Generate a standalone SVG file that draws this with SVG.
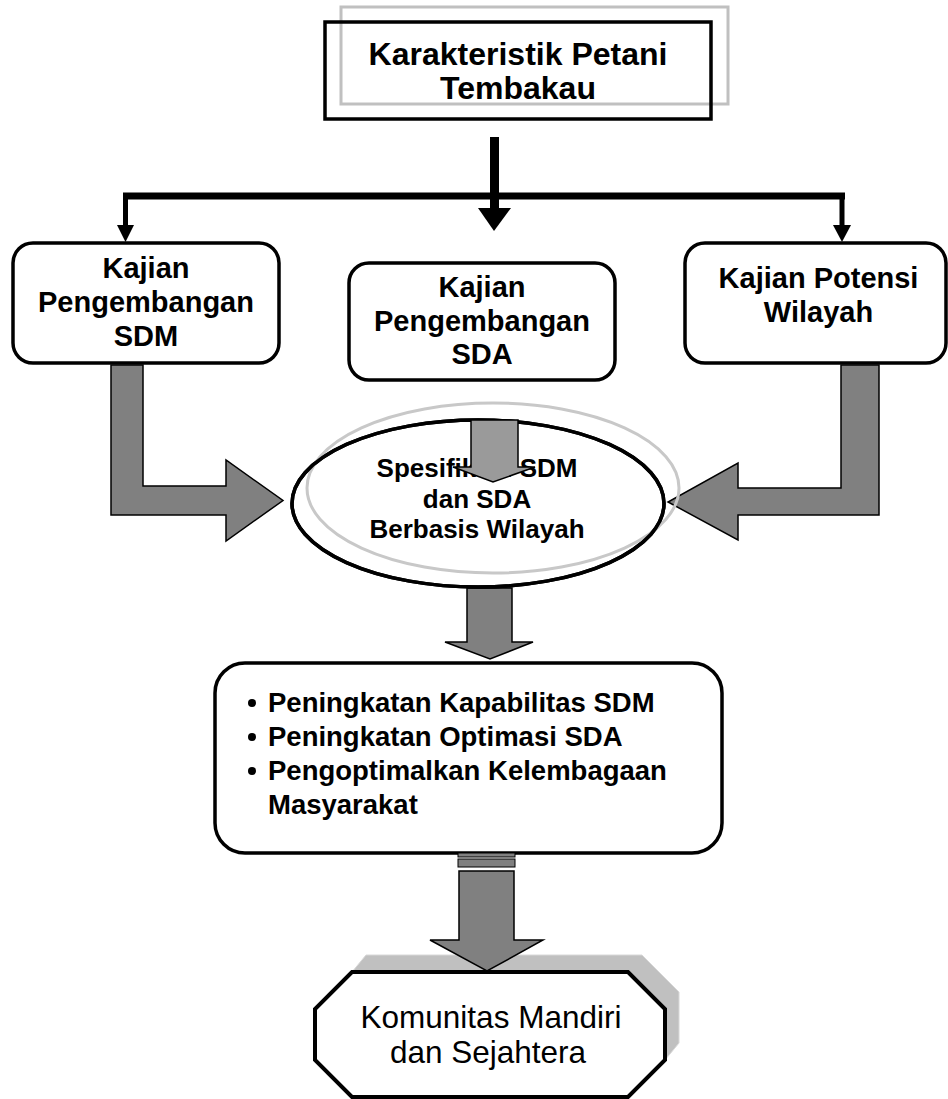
<svg xmlns="http://www.w3.org/2000/svg" width="948" height="1099" viewBox="0 0 948 1099">
<style>
.t{font-family:"Liberation Sans",Arial,sans-serif;font-weight:bold;fill:#000}
.r{font-family:"Liberation Sans",Arial,sans-serif;font-weight:normal;fill:#000}
.box{fill:#fff;stroke:#000;stroke-width:3.5}
.garrow{fill:#808080;stroke:#000;stroke-width:1.5;stroke-linejoin:miter}
.conn{fill:none;stroke:#000;stroke-linejoin:miter}
</style>
<rect width="948" height="1099" fill="#fff"/>

<g id="node-karakteristik">
<rect x="341" y="7" width="387" height="97" fill="none" stroke="#c0c0c0" stroke-width="3"/>
<rect x="325" y="22" width="386" height="97" fill="none" stroke="#000" stroke-width="3.5"/>
<text class="t" font-size="32" text-anchor="middle"><tspan x="518" y="65">Karakteristik Petani</tspan><tspan x="518" y="99">Tembakau</tspan></text>
</g>

<g id="connectors">
<rect x="490" y="137" width="9" height="72" fill="#000"/>
<polygon points="478,208 511,208 494,231" fill="#000"/>
<path class="conn" d="M125.5,226 V196 H842 V226" stroke-width="5"/>
<line x1="123" y1="196" x2="845" y2="196" stroke="#000" stroke-width="7"/>
<polygon points="117,225 134,225 125.5,242" fill="#000"/>
<polygon points="833,225 851,225 842,242" fill="#000"/>
<polygon class="garrow" points="111,365 143,365 143,486 226,486 226,460 283,500.5 226,541 226,515 111,515"/>
<polygon class="garrow" points="841,365 879,365 879,515 738,515 738,540 668,502 738,463 738,488 841,488"/>
<polygon class="garrow" points="467,588 512,588 512,642 533,642 490,659 445,642 467,642"/>
</g>

<g id="node-sdm">
<rect class="box" x="13" y="243" width="266" height="120" rx="20"/>
<text class="t" font-size="29" text-anchor="middle"><tspan x="146" y="278">Kajian</tspan><tspan x="146" y="312">Pengembangan</tspan><tspan x="146" y="346">SDM</tspan></text>
</g>

<g id="node-sda">
<rect class="box" x="349" y="263" width="266" height="117" rx="20"/>
<text class="t" font-size="29" text-anchor="middle"><tspan x="482" y="297">Kajian</tspan><tspan x="482" y="331">Pengembangan</tspan><tspan x="482" y="364">SDA</tspan></text>
</g>

<g id="node-wilayah">
<rect class="box" x="685" y="243" width="261" height="120" rx="20"/>
<text class="t" font-size="29" text-anchor="middle"><tspan x="818.5" y="288">Kajian Potensi</tspan><tspan x="818.5" y="322">Wilayah</tspan></text>
</g>

<g id="node-spesifikasi">
<ellipse cx="478" cy="503.5" rx="186" ry="83.5" fill="#fff" stroke="#000" stroke-width="3.5"/>
<ellipse cx="493" cy="488" rx="186" ry="85" fill="none" stroke="#c8c8c8" stroke-width="3"/>
<ellipse cx="478" cy="503.5" rx="186" ry="83.5" fill="none" stroke="#000" stroke-width="3.5"/>
<text class="t" font-size="26" text-anchor="middle"><tspan x="477" y="477">Spesifikasi SDM</tspan><tspan x="477" y="508">dan SDA</tspan><tspan x="477" y="538">Berbasis Wilayah</tspan></text>
<polygon points="471,420 518,420 518,467 535,467 493,482 453,467 471,467" fill="#9a9a9a" stroke="#000" stroke-width="1.5"/>
</g>

<g id="node-peningkatan">
<rect class="box" x="215" y="663" width="507" height="190" rx="30"/>
<circle cx="252" cy="703" r="4" fill="#000"/>
<circle cx="252" cy="737" r="4" fill="#000"/>
<circle cx="252" cy="771" r="4" fill="#000"/>
<text class="t" font-size="27.5"><tspan x="268" y="712">Peningkatan Kapabilitas SDM</tspan><tspan x="268" y="746">Peningkatan Optimasi SDA</tspan><tspan x="268" y="780">Pengoptimalkan Kelembagaan</tspan><tspan x="268" y="814">Masyarakat</tspan></text>
</g>

<g id="node-komunitas">
<polygon points="352,972 366,955 642,955 679,992 679,1043 665,1060 665,1009 628,972" fill="#c0c0c0" stroke="#d8d8d8" stroke-width="1"/>
<polygon points="352,972 628,972 665,1009 665,1060 628,1097 352,1097 315,1060 315,1009" fill="#fff" stroke="#000" stroke-width="4"/>
<text class="r" font-size="31.5" text-anchor="middle"><tspan x="491" y="1028">Komunitas Mandiri</tspan><tspan x="488" y="1063">dan Sejahtera</tspan></text>
</g>

<g id="connector-bottom">
<rect x="458" y="853" width="57" height="4" fill="#808080" stroke="#000" stroke-width="1"/>
<rect x="458" y="859" width="57" height="8" fill="#808080" stroke="#000" stroke-width="1"/>
<polygon class="garrow" points="459,871 514,871 514,940 543,940 487,971 430,940 459,940"/>
</g>
</svg>
